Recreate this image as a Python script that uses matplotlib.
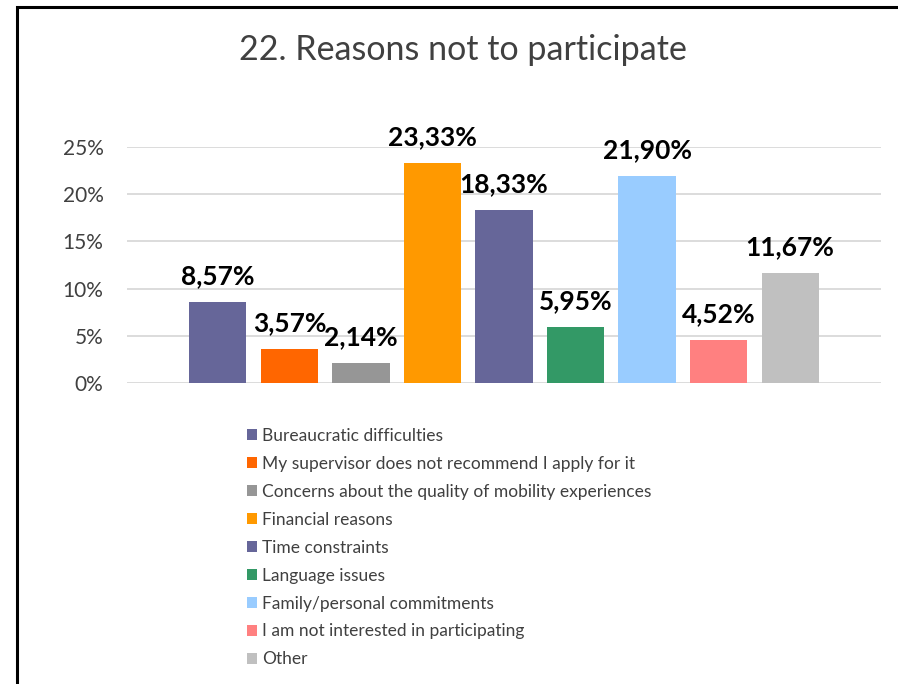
import matplotlib.pyplot as plt
from matplotlib.patches import Patch, Rectangle

plt.rcParams['font.family'] = ['Lato', 'DejaVu Sans']

# data
reasons = ["Bureaucratic difficulties",
           "My supervisor does not recommend I apply for it",
           "Concerns about the quality of mobility experiences",
           "Financial reasons",
           "Time constraints",
           "Language issues",
           "Family/personal commitments",
           "I am not interested in participating",
           "Other"]
shares = [8.57, 3.57, 2.14, 23.33, 18.33, 5.95, 21.90, 4.52, 11.67]
colours = ["#666699", "#FF6600", "#969696", "#FF9900", "#666699",
           "#339966", "#99CCFF", "#FF8080", "#C0C0C0"]
yticks = [0, 5, 10, 15, 20, 25]

W, H = 898, 684
fig = plt.figure(figsize=(W / 100, H / 100), dpi=100)
ax = fig.add_axes([127 / W, 1 - 383 / H, (881 - 127) / W, (383 - 147) / H])

x = list(range(len(shares)))
ax.bar(x, shares, width=0.8, color=colours, zorder=3)
for xi, v in zip(x, shares):
    ax.annotate(("%.2f%%" % v).replace(".", ","), (xi, v), xytext=(0, 10),
                textcoords="offset points", ha="center", va="bottom",
                fontsize=19, fontweight="bold", color="black", zorder=4)

ax.set_xlim(4 - 5.27, 4 + 5.27)
ax.set_ylim(0, 25)
ax.set_yticks(yticks)
ax.set_yticklabels(["%d%%" % t for t in yticks], fontsize=15, color="#404040")
ax.set_xticks([])
ax.tick_params(axis="y", length=0, pad=17)
ax.grid(axis="y", color="#D9D9D9", linewidth=1.3, zorder=0)
for s in ax.spines.values():
    s.set_visible(False)

fig.text(463 / W, 1 - 50 / H, "22. Reasons not to participate", ha="center",
         va="center", fontsize=24.5, color="#404040")

handles = [Patch(facecolor=c, edgecolor="none") for c in colours]
fig.legend(handles, reasons, loc="upper left",
           bbox_to_anchor=(231 / W, 1 - 412 / H), frameon=False,
           fontsize=12.5, labelcolor="#404040", handlelength=0.62,
           handleheight=0.62, handletextpad=0.25, labelspacing=0.69)

fig.patches.append(Rectangle((16.5 / W, -0.2), 1.5, 1.2 - 6.5 / H,
                             transform=fig.transFigure, fill=False,
                             edgecolor="black", linewidth=2.2))

fig.savefig("out.png", dpi=100)
